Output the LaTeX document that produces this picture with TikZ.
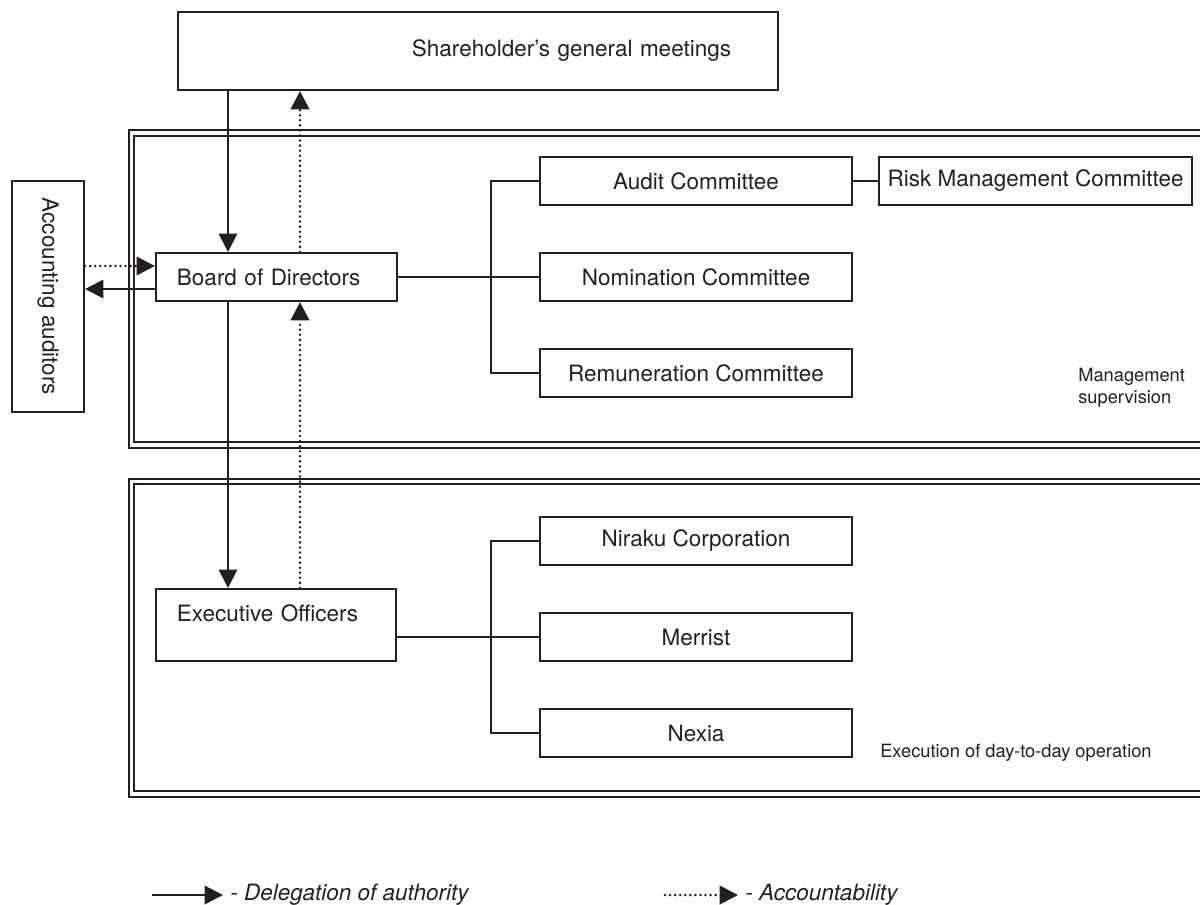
\documentclass[tikz,border=0pt]{standalone}
\usepackage{fontspec}
\setmainfont{TeX Gyre Heros}
\usetikzlibrary{arrows.meta,positioning}
\definecolor{ink}{RGB}{35,31,32}
\tikzset{
  box/.style={draw=ink, line width=1.5pt, minimum height=1.2cm, inner sep=0pt, text=ink, font=\fontsize{16}{19}\selectfont},
  combox/.style={box, minimum width=7.8cm},
  frame/.style={draw=ink, line width=1.3pt, double, double distance=2.6pt},
  link/.style={draw=ink, line width=1.6pt},
  deleg/.style={link, -{Triangle[length=0.46cm,width=0.46cm]}},
  acct/.style={deleg, line width=2pt, line cap=round, dash pattern=on 0pt off 3.6pt},
  note/.style={text=ink, font=\fontsize{13}{15.5}\selectfont, align=left, inner sep=0pt},
  legend/.style={note, font=\fontsize{16}{19}\selectfont\itshape, inner xsep=0.18cm},
}

\begin{document}
\begin{tikzpicture}[x=0.025cm, y=-0.025cm]
  \useasboundingbox (0,0) rectangle (1200,904);
  \clip (0,0) rectangle (1200,904);
  \draw[frame] (131.5,133) rectangle (1240,445);
  \draw[frame] (131.5,481.5) rectangle (1240,794);

  \node[box, minimum width=15cm, minimum height=1.95cm, text width=12.65cm, align=right, inner xsep=1.175cm] (share) at (478,51) {Shareholder's general meetings};
  \node[box, text width=4.975cm, align=left, inner xsep=0.525cm] (board) at (276.5,277) {Board of Directors};
  \node[box, text width=4.95cm, align=left, inner xsep=0.525cm, inner ysep=0.1cm, text height=0.7cm, text depth=0.9cm] (exec) at (276,625) {Executive Officers};
  \node[box, rotate=-90, minimum width=5.775cm, minimum height=1.8cm] (aud) at (48,296.5) {Accounting auditors};

  \node[combox] (audit) at (696,181) {Audit Committee};
  \node[combox] (nomin) at (696,277) {Nomination Committee};
  \node[combox] (remun) at (696,373) {Remuneration Committee};
  \node[box, minimum width=7.825cm] (risk) at (1035.5,181) {Risk Management Committee};

  \node[combox] (niraku) at (696,541) {Niraku Corporation};
  \node[combox] (merrist) at (696,637) {Merrist};
  \node[combox] (nexia) at (696,733) {Nexia};

  \node[note, anchor=west] (mgmt) at (1078,388) {Management\\supervision};
  \node[note, anchor=west] (daily) at (880,753) {Execution of day-to-day operation};

  \coordinate (dl) at (228,0);
  \coordinate (ac) at (300,0);
  \draw[deleg] (dl |- share.south) -- (dl |- board.north);
  \draw[acct] (ac |- board.north) -- (ac |- share.south);
  \draw[deleg] (dl |- board.south) -- (dl |- exec.north);
  \draw[acct] (ac |- exec.north) -- (ac |- board.south);

  \coordinate (upper) at ([yshift=0.275cm]board.west);
  \coordinate (lower) at ([yshift=-0.3cm]board.west);
  \draw[acct] (aud.north |- upper) -- (upper);
  \draw[deleg] (lower) -- (aud.north |- lower);

  \draw[link] (board.east) -- (nomin.west);
  \draw[link] (audit.west) -- ++(-48,0) |- (remun.west);
  \draw[link] (audit.east) -- (risk.west);
  \draw[link] (merrist.west -| exec.east) -- (merrist.west);
  \draw[link] (niraku.west) -- ++(-48,0) |- (nexia.west);

  \coordinate (dlstart) at (152,895);
  \node[legend, anchor=west] (dltext) at (223,895) {- Delegation of authority};
  \draw[deleg] (dlstart) -- (dltext.west);
  \coordinate (acstart) at (665,895);
  \node[legend, anchor=west] (actext) at (738,895) {- Accountability};
  \draw[acct] (acstart) -- (actext.west);
\end{tikzpicture}
\end{document}
